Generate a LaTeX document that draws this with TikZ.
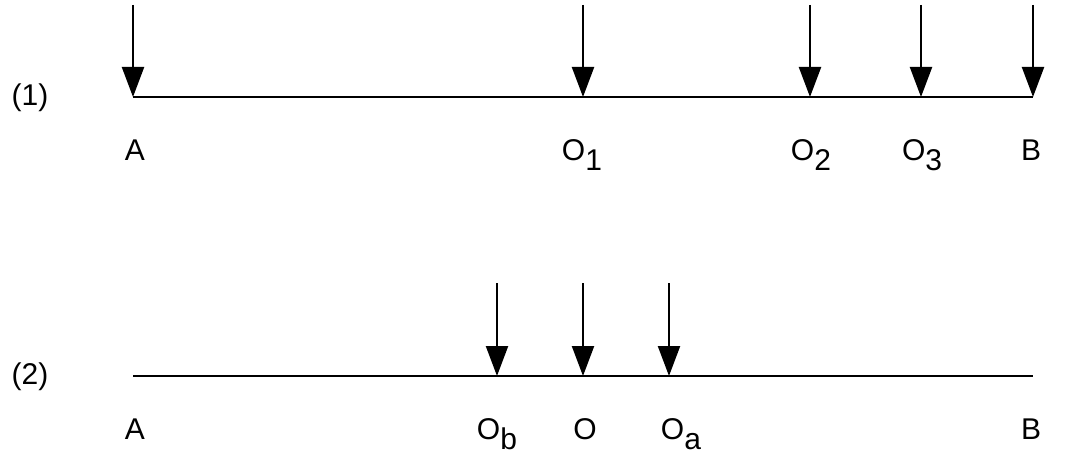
\documentclass[tikz,border=0pt]{standalone}
\usepackage{fontspec}
\setmainfont{Liberation Sans}
\usetikzlibrary{arrows.meta}
\newcommand{\sub}[2]{#1\raisebox{-10pt}{#2}}
\begin{document}
\begin{tikzpicture}[x=1pt,y=-1pt,
  lbl/.style={font=\fontsize{30}{34}\selectfont, inner sep=0pt},
  ln/.style={line width=2.5pt},
  arr/.style={line width=2.2pt,-{Triangle[length=30pt,width=22pt]}}]
\useasboundingbox (0,0) rectangle (1071,465);
% line 1
\coordinate (A1) at (133,97); \coordinate (B1) at (1033,97);
\draw[ln] (A1) -- (B1);
\foreach \n/\x in {a/133,b/583,c/810,d/921,e/1033}{
  \coordinate (t\n) at (\x,5); \coordinate (h\n) at (\x,97);
  \draw[arr] (t\n) -- (h\n);}
\node[lbl] (p1) at (30,98) {(1)};
\node[lbl] (la1) at (135,150) {A};
\node[lbl] (lo1) at (582,155) {\sub{O}{1}};
\node[lbl] (lo2) at (811,155) {\sub{O}{2}};
\node[lbl] (lo3) at (922,155) {\sub{O}{3}};
\node[lbl] (lb1) at (1031,150) {B};
% line 2
\coordinate (A2) at (133,376); \coordinate (B2) at (1033,376);
\draw[ln] (A2) -- (B2);
\foreach \n/\x in {f/497,g/583,h/669}{
  \coordinate (t\n) at (\x,283); \coordinate (h\n) at (\x,376);
  \draw[arr] (t\n) -- (h\n);}
\node[lbl] (p2) at (30,377) {(2)};
\node[lbl] (la2) at (135,429) {A};
\node[lbl] (lob) at (497,434) {\sub{O}{b}};
\node[lbl] (lo) at (585,429) {O};
\node[lbl] (loa) at (681,434) {\sub{O}{a}};
\node[lbl] (lb2) at (1031,429) {B};
\end{tikzpicture}
\end{document}
